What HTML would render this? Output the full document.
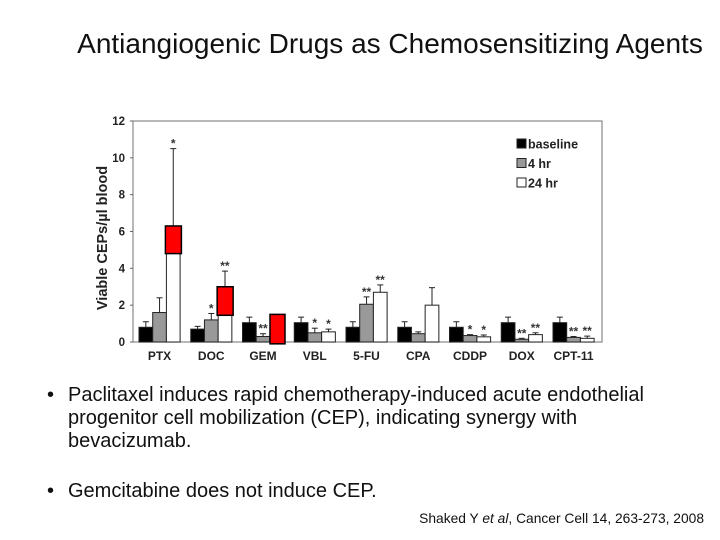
<!DOCTYPE html>
<html><head><meta charset="utf-8"><style>
body{margin:0;width:720px;height:540px;background:#fff;overflow:hidden;font-family:"Liberation Sans",Arial,sans-serif;position:relative}
.t{position:absolute;white-space:nowrap}
</style></head><body>
<div class="t" style="left:0;width:780px;text-align:center;top:28px;font-size:28px;color:#111">Antiangiogenic Drugs as Chemosensitizing Agents</div>
<svg id="chart" width="720" height="380" style="position:absolute;left:0;top:0"></svg>
<div class="t" style="left:47px;top:384px;font-size:20px;line-height:23px;color:#111"><span style="position:absolute;left:0">•</span><div style="margin-left:21px">Paclitaxel induces rapid chemotherapy-induced acute endothelial<br>progenitor cell mobilization (CEP), indicating synergy with<br>bevacizumab.</div></div>
<div class="t" style="left:47px;top:480px;font-size:20px;color:#111"><span style="position:absolute;left:0">•</span><div style="margin-left:21px">Gemcitabine does not induce CEP.</div></div>
<div class="t" style="right:16px;top:511px;font-size:13.8px;color:#111">Shaked Y <i>et al</i>, Cancer Cell 14, 263-273, 2008</div>
<script>
const categories=["PTX","DOC","GEM","VBL","5-FU","CPA","CDDP","DOX","CPT-11"];
const baseline=[0.8,0.7,1.05,1.05,0.8,0.8,0.8,1.05,1.05];
const baselineErr=[1.1,0.85,1.35,1.35,1.1,1.1,1.1,1.35,1.35];
const hr4=[1.6,1.2,0.3,0.5,2.05,0.45,0.35,0.15,0.25];
const hr4Err=[2.4,1.55,0.45,0.75,2.45,0.55,0.4,0.2,0.3];
const hr24=[5.8,2.7,0.5,0.55,2.7,2.0,0.28,0.4,0.2];
const hr24Err=[10.5,3.85,0.6,0.7,3.1,2.95,0.38,0.5,0.32];
const stars4=["","*","**","*","**","","*","**","**"];
const stars24=["*","**","","*","**","","*","**","**"];
const yTicks=[0,2,4,6,8,10,12];
const highlights=[{cat:0,s:2,lo:4.8,hi:6.3},{cat:1,s:2,lo:1.45,hi:3.0},{cat:2,s:2,lo:-0.1,hi:1.5}];
const NS="http://www.w3.org/2000/svg",svg=document.getElementById('chart');
const X0=133,X1=602,Y0=342,Y1=121;
const y=v=>Y0-(v/12)*(Y0-Y1);
const gx=(i,s)=>139+i*51.75+s*13.7;
function mk(t,a,txt){const e=document.createElementNS(NS,t);for(const k in a)e.setAttribute(k,a[k]);if(txt!=null)e.textContent=txt;svg.appendChild(e);return e;}
let e=mk('rect',{x:X0,y:Y1,width:X1-X0,height:Y0-Y1,fill:'none',stroke:'#888','stroke-width':1.2});

yTicks.forEach(v=>{e=mk('text',{x:125,y:y(v)+4,'text-anchor':'end','font-size':11.5,'font-weight':'bold',fill:'#222'},v);

mk('line',{x1:X0-3,x2:X0,y1:y(v),y2:y(v),stroke:'#666'});});
e=mk('text',{x:0,y:0,transform:'translate(107,238) rotate(-90)','text-anchor':'middle','font-size':14.5,'font-weight':'bold',fill:'#222'},'Viable CEPs/µl blood');

const series=[[baseline,baselineErr,'#000','baseline'],[hr4,hr4Err,'#999','4hr'],[hr24,hr24Err,'#fff','24hr']];
categories.forEach((c,i)=>{
 series.forEach((s,k)=>{const x=gx(i,k),w=13.7,cx=x+w/2;
  e=mk('line',{x1:cx,x2:cx,y1:y(s[1][i]),y2:y(s[0][i]),stroke:'#222','stroke-width':1});
  
  mk('line',{x1:cx-3,x2:cx+3,y1:y(s[1][i]),y2:y(s[1][i]),stroke:'#222'});
  e=mk('rect',{x:x,y:y(s[0][i]),width:w,height:Y0-y(s[0][i]),fill:s[2],stroke:'#222','stroke-width':1});
  
 });
 [[stars4,1],[stars24,2]].forEach(([arr,k])=>{if(arr[i]){const err=k==1?hr4Err[i]:hr24Err[i];
  e=mk('text',{x:gx(i,k)+6.8,y:y(err)-1,'text-anchor':'middle','font-size':12,'font-weight':'bold',fill:'#333'},arr[i]);
  }});
 e=mk('text',{x:gx(i,1)+6.8,y:360,'text-anchor':'middle','font-size':12,'font-weight':'bold',fill:'#222'},c);
 
});
highlights.forEach(h=>{const x=h.cat==2?270:gx(h.cat,h.s)-1;const w=h.cat==2?15:16;
 e=mk('rect',{x:x,y:y(h.hi),width:w,height:y(h.lo)-y(h.hi),fill:'#f00',stroke:'#000','stroke-width':1.5});
 });
[['baseline','#000'],['4 hr','#999'],['24 hr','#fff']].forEach((l,k)=>{const yy=144+k*19.5;
 e=mk('rect',{x:517,y:yy-5,width:9,height:9,fill:l[1],stroke:'#222'});
 
 e=mk('text',{x:528,y:yy+4.5,'font-size':12.5,'font-weight':'bold',fill:'#222'},l[0]);
 });
</script>
</body></html>
